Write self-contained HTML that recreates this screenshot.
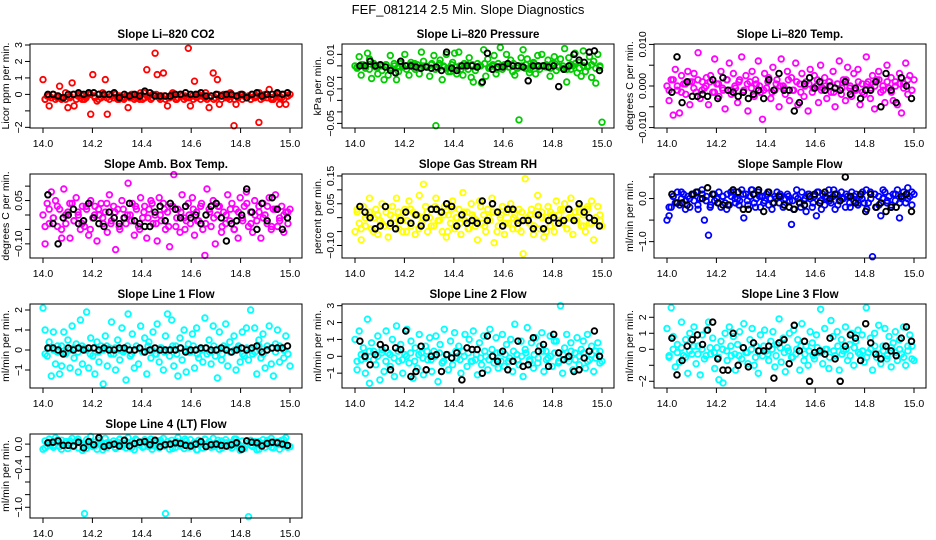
<!DOCTYPE html>
<html><head><meta charset="utf-8">
<style>
html,body{margin:0;padding:0;background:#fff;}
svg{display:block;font-family:"Liberation Sans",Arial,sans-serif;}
</style></head>
<body>
<svg id="fig" width="936" height="540" viewBox="0 0 936 540">
<text x="468" y="14" text-anchor="middle" font-size="13">FEF_081214  2.5 Min. Slope Diagnostics</text>
</svg>
<script>
// ---- data (scaled integers; multiply by the panel's unit) ----
const co2Main=[9,-3,-1,-7,-2,0,-3,-1,5,-2,-2,-3,-8,-1,7,-7,-3,0,-2,-1,-3,-1,0,-12,12,-2,-4,0,-2,-1,9,-12,-3,-1,-2,0,-3,-1,-2,-3,-1,-8,-2,0,-3,-1,-2,1,-3,-2,15,-1,-3,0,25,12,-2,-1,13,-3,-7,-2,0,-1,-3,-2,0,-1,-3,-2,28,-7,-1,8,-2,0,-3,-1,-2,-3,-8,-1,13,-2,9,-6,-3,0,-1,-2,-3,-1,-19,-6,-2,0,-3,-1,-2,-1,-3,0,-2,-1,-17,-3,-1,0,-2,3,-2,-3,-1,0,-6,-2,-3,-6,-1,0];
const co2Core=[-3,-1,0,-2,-3,1,-2,0,-1,-3,-2,0,-1,-3,1,-2,-1,0,-3,-2,-1,0,-2,-3,1,-1,-2,0,-3,-1,-2,1,-3,0,-1,-2,-3,0,-1,1,-2,-3,0,-1,-2,1,-3,-1,0,-2,-3,-1,1,-2,0,-3,-1,-2,0,-1];
const co2Black=[0,0,-1,-2,0,0,1,0,1,1,0,0,0,1,-2,0,-1,0,-1,2,1,-1,-1,-1,-1,0,0,1,0,0,1,-1,-1,0,-1,0,0,-1,0,-2,0,1,-1,0,0,1,0,1];
const presMain=[0,-1,8,-8,1,-2,11,6,-11,2,-1,-7,0,-4,-12,1,-8,9,-3,0,-12,-5,2,-1,10,0,-8,3,-1,-3,1,-7,12,4,0,-1,-9,2,9,-52,-2,5,-12,-1,10,-5,-5,3,11,-7,12,-3,-8,0,1,7,-10,-14,-4,2,0,-15,14,-9,6,-1,0,9,-7,2,16,-3,1,10,-1,5,-5,-8,0,-47,7,14,-2,6,-6,0,3,-7,9,-3,10,0,-1,5,-9,2,8,-4,0,6,-2,15,-14,7,-3,0,11,-6,3,-9,13,-5,0,8,-10,4,-15,10,-1,-49];
const presCore=[-2,1,0,-3,2,-1,0,1,-2,2,-1,0,-3,1,2,-2,0,-1,1,-3,2,0,-2,1,-1,0,2,-3,1,-1,0,2,-2,1,-3,0,1,-1,2,-2,0,1,-3,2,-1,0,1,-2,2,-1,0,-3,1,2,-2,0,-1,1,-2,0];
const presBlack=[0,0,4,0,1,-1,-4,-6,4,0,0,-1,-2,-1,-2,-1,-4,12,-2,-4,0,0,0,-1,-14,11,-3,-1,-1,2,0,0,-1,-13,0,0,0,-1,0,-18,-3,0,10,5,3,12,13,-4];
const tempMain=[0,-7,3,-14,8,-2,-13,5,1,-4,7,-9,2,6,-3,16,-6,2,-1,4,-9,5,-3,13,1,-5,7,-2,-11,3,11,-4,6,-1,-8,3,14,-2,5,-12,2,7,-5,1,12,-3,-16,6,-1,4,-6,9,-2,3,-10,13,0,-4,7,-7,4,-2,11,-9,1,6,-5,2,-12,8,-3,5,0,-8,10,-1,4,-6,2,-3,7,-10,1,12,-4,3,-7,9,-1,-5,6,-2,8,-9,1,-4,14,2,-6,5,-11,3,7,-3,0,-8,10,-1,4,-7,2,-9,6,-13,1,11,-4,5,-2,3];
const tempCore=[-2,3,0,-3,1,2,-1,3,-2,0,2,-3,1,-1,3,-2,0,2,-3,1,-1,3,0,-2,2,-3,1,0,-1,3,-2,2,-3,0,1,-1,3,-2,0,2,-3,1,-1,3,0,-2,2,-3,1,-1,0,3,-2,2,-3,0,1,-1,3,-2];
const tempBlack=[-3,14,-8,2,-5,-5,-4,-5,3,-6,4,-2,-3,-5,-3,-6,-4,-2,-6,3,-2,6,-2,-2,-12,-8,1,4,-1,2,-2,0,-1,-2,2,-4,-1,-6,-2,-2,2,-10,6,-2,-8,4,0,-6];
const ambMain=[0,-10,4,-3,8,-1,5,-4,2,-8,9,-3,1,-8,4,-2,6,0,-5,3,-4,2,-7,5,-1,3,-9,0,4,-3,1,-6,7,-2,3,-12,2,-5,5,-1,-3,11,0,4,-7,2,-4,6,-1,3,-8,2,5,-3,0,-9,6,-2,4,-5,1,-11,3,14,-4,2,-6,7,-1,-2,4,-3,6,-7,1,-2,3,-5,-14,9,2,-4,5,-10,0,3,-6,1,-3,7,-2,4,-5,2,-8,6,-1,3,8,-4,1,-6,5,-2,3,-8,4,0,-3,6,-5,2,7,-4,-1,3,-6,1,-3,2];
const ambCore=[-4,2,-1,3,-5,0,4,-2,1,-3,3,-5,0,2,-1,4,-3,1,-4,2,0,-2,3,-5,1,-1,4,-3,0,2,-4,3,-1,1,-5,0,2,-2,4,-3,1,-1,3,-4,0,2,-5,1,-2,4,-3,0,1,-1,3,-4,2,-2,0,1];
const ambBlack=[7,-3,-10,-1,0,2,-3,-2,4,-1,-3,-4,1,-1,-3,-1,4,-2,-3,-4,-4,1,3,-2,4,2,-1,3,-1,0,-3,0,3,4,-1,-9,-3,-2,0,9,1,-5,4,-2,6,2,-5,-1];
const rhMain=[-5,2,-2,-8,4,-3,1,7,-4,0,3,-6,-1,5,-3,2,-7,1,4,-2,7,-4,0,-5,3,-1,6,-3,2,-6,1,8,-2,12,4,-5,0,3,-3,7,-1,2,-5,4,-7,1,-2,6,-4,0,3,-6,9,-1,2,-4,5,0,-3,-8,6,-2,1,-5,3,-1,7,-9,2,-3,0,4,-6,2,-2,5,-4,1,-1,3,-5,-13,14,0,-2,3,-6,1,8,-4,2,-7,0,4,-3,1,-5,6,-1,3,-2,5,-4,0,7,-6,2,-1,4,-3,1,-5,3,-2,6,-8,0,4,-1,-3];
const rhCore=[3,-4,0,2,-5,1,-2,4,-3,0,2,-1,-5,3,1,-4,0,2,-3,4,-1,1,-5,3,0,-2,2,-4,1,-1,4,-3,0,2,-5,1,-2,3,0,-4,2,-1,1,-3,4,0,-5,2,-2,1,3,-4,0,-1,2,-3,4,-2,0,1];
const rhBlack=[4,2,0,-4,-3,4,-2,-4,-1,2,-2,1,-3,0,3,3,2,5,4,-3,1,-2,-1,-2,6,-1,5,2,-3,3,3,-2,-1,-1,-4,1,-4,-1,0,-2,-1,3,-1,5,2,0,-1,-3];
const sfMain=[-50,-40,-20,5,-10,15,-15,0,10,-5,5,-20,10,-5,15,-25,0,10,-50,5,-85,-15,10,-5,0,15,-20,5,-10,10,-15,5,15,-10,0,-5,20,-45,10,-15,5,20,-10,0,15,-20,5,-5,10,-15,0,-10,5,15,-10,5,-20,0,10,-5,-60,-25,5,0,-10,15,-5,-30,10,0,-20,5,-40,15,-5,10,-15,0,20,-10,5,-25,10,-5,15,0,-20,5,-10,15,-5,10,-15,5,0,-10,20,-10,15,-135,10,-20,5,-40,0,15,-10,5,-15,10,-5,20,-45,0,15,-10,25,5,-15,10];
const sfCore=[-20,5,-10,15,-25,0,10,-15,20,-5,-20,10,-10,5,-25,15,0,-15,10,-5,20,-20,5,-10,15,-25,0,10,-15,5,-5,20,-20,0,10,-10,15,-25,5,-5,20,-15,0,10,-20,5,-10,15,-25,0,10,-15,20,-5,-20,10,-10,5,0,15];
const sfBlack=[10,-10,-10,-15,10,15,0,25,10,-10,-15,-15,20,15,-25,-25,10,20,-30,15,-10,5,-15,-20,-25,-10,-15,5,10,-10,15,0,10,-5,50,5,-10,10,-30,10,-20,-10,-30,-20,-20,5,10,-30];
const l1Main=[21,10,-3,4,-13,9,-7,2,-12,-8,9,-1,5,-9,12,-4,3,-11,15,-7,1,19,-9,6,-3,-12,4,-6,2,-17,7,-8,1,14,-2,-10,5,-5,11,0,-15,18,-3,8,-9,2,-7,12,-1,6,-12,4,-4,9,-2,13,-6,1,-10,7,18,-3,15,-8,2,-13,6,-5,10,-11,3,-1,8,-9,11,-4,1,-6,16,-2,5,-7,12,-3,-14,9,-5,2,13,-8,4,-1,7,-10,1,-6,9,-3,11,-5,20,-2,11,-12,5,-4,8,-9,2,12,-7,-13,3,10,-6,1,-4,7,-2,-8];
const l1Core=[-2,1,0,-1,2,-2,0,1,-1,2,0,-2,1,-1,0,2,-2,1,0,-1,2,-2,0,1,-1,2,0,-2,1,-1,0,2,-2,1,0,-1,2,-2,0,1,-1,2,0,-2,1,-1,0,2,-2,1,0,-1,2,-2,0,1,-1,2,0,-2];
const l1Black=[1,1,0,-2,1,0,1,0,1,1,0,1,0,0,1,1,0,0,1,-1,0,1,0,0,0,0,1,-1,0,0,1,1,0,0,1,0,-1,0,1,0,1,2,-1,0,1,1,1,2];
const l2Main=[10,-8,15,-2,5,-10,22,-16,8,3,-5,12,-14,4,-9,15,2,-6,10,-12,18,-3,7,-10,1,16,-4,9,-13,5,-7,13,2,-11,6,-2,11,-9,3,12,-15,7,-4,16,1,-8,9,-5,14,-1,6,-10,3,13,-6,10,-3,15,-2,-11,8,-5,12,0,-8,16,4,-4,11,-7,2,13,-6,7,-3,10,-9,19,1,-5,9,-12,4,17,-2,8,-7,11,-4,6,14,-9,3,-1,12,-6,9,9,-4,30,-10,5,13,-3,8,-8,2,11,-5,4,9,-7,13,-2,6,-9,3,8,-4,-3];
const l2Core=[-3,1,-1,3,-2,0,2,-3,1,-1,3,-2,0,2,-3,1,-1,3,-2,0,2,-3,1,-1,3,-2,0,2,-3,1,-1,3,-2,0,2,-3,1,-1,3,-2,0,2,-3,1,-1,3,-2,0,2,-3,1,-1,3,-2,0,2,-3,1,-1,3];
const l2Black=[9,0,-5,1,7,5,-8,5,4,15,-12,-9,6,-8,0,1,-9,1,-1,2,-14,5,4,4,-10,12,0,-3,3,-8,-3,9,-6,-5,11,3,7,-6,13,2,-2,0,-9,-8,-1,3,15,0];
const l3Main=[13,-5,26,8,-11,3,-8,17,-4,6,-15,10,-3,14,-9,2,-16,9,-6,12,17,-3,7,-12,1,-19,5,-21,10,-7,14,-4,8,-13,3,11,-6,16,-2,-9,6,13,-10,2,-15,9,-4,12,-1,-7,5,11,-11,3,19,-8,7,-14,1,10,-5,12,-3,6,-13,16,-7,2,-10,11,4,-6,9,-2,25,-9,13,0,-12,18,8,-4,11,-13,6,-1,14,-7,3,10,-10,5,12,-3,9,-8,26,-2,7,-13,10,-5,15,-9,2,13,-6,8,-11,4,11,-7,6,-3,14,-10,2,9,-6,-7];
const l3Core=[-4,0,-2,1,-5,-1,2,-3,0,-4,1,-2,-5,0,-1,2,-3,-4,1,-2,0,-5,-1,2,-3,0,-4,1,-2,-1,-5,0,2,-3,-1,-4,1,-2,0,-5,-1,2,-3,0,-4,1,-2,-1,-5,0,2,-3,-1,-4,1,-2,0,-5,-1,2];
const l3Black=[7,-16,-7,2,6,9,3,12,17,-6,-13,-13,10,-10,1,-11,4,-1,-1,2,-18,4,6,-9,15,-1,5,-20,-2,-1,-3,7,-6,-20,2,9,7,-7,16,4,-3,-6,2,-1,-4,7,14,5];
const l4Main=[-8,5,-3,8,0,-5,10,2,-4,6,-2,4,-7,1,9,-3,5,-6,2,-10,-110,7,-2,12,-4,3,-8,6,0,-3,9,-5,2,-1,5,-7,3,8,-4,1,-6,10,-2,4,-9,6,-1,3,-5,7,2,-4,8,-2,-3,5,-6,1,9,-110,4,-8,6,0,-5,10,-3,2,-7,5,-1,7,-4,3,-9,6,0,-6,8,-2,4,-5,9,-3,1,-8,5,-2,7,-4,2,-6,3,8,-3,-10,5,-7,1,-115,6,-4,2,-9,4,-1,7,-5,3,-2,9,-6,1,4,-8,6,-3,10,-5,-4];
const l4Core=[-6,3,-2,7,-8,1,5,-4,8,-1,-7,4,-3,6,-9,2,0,-5,7,-2,3,-6,8,-1,-4,5,-8,2,6,-3,0,-7,4,-2,8,-5,1,-9,3,7,-1,-4,6,-6,2,-3,8,0,-7,5,-2,4,-8,1,6,-5,3,-1,7,-4];
const l4Black=[2,3,5,-2,-2,-3,3,-6,4,-1,10,-4,-2,0,-3,6,-3,1,3,4,-1,6,-4,-1,0,2,1,-2,-3,0,4,-4,-1,0,-2,-3,-1,2,-8,5,3,2,-3,1,3,2,0,-2];
const xTicks=[14.0,14.2,14.4,14.6,14.8,15.0];
const xTickLabels=["14.0","14.2","14.4","14.6","14.8","15.0"];
const xStart=14.0, xEnd=15.0;

const panels=[
 {name:"co2",title:"Slope Li\u2013820 CO2",ylab:"Licor ppm per min.",color:"#ff0000",unit:0.1,main:co2Main,core:co2Core,black:co2Black,yTop:3.06,yBot:-2.04,ticks:[-2,-1,0,1,2,3],labels:["\u22122","","0","1","2","3"]},
 {name:"pressure",title:"Slope Li\u2013820 Pressure",ylab:"kPa per min.",color:"#00cc00",unit:0.001,main:presMain,core:presCore,black:presBlack,yTop:0.019,yBot:-0.054,ticks:[0.01,0,-0.01,-0.02,-0.03,-0.04,-0.05],labels:["0.01","","","\u22120.02","","","\u22120.05"]},
 {name:"temp",title:"Slope Li\u2013820 Temp.",ylab:"degrees C per min.",color:"#ff00ff",unit:0.0005,main:tempMain,core:tempCore,black:tempBlack,yTop:0.0101,yBot:-0.0101,ticks:[0.01,0.005,0,-0.005,-0.01],labels:["0.010","","0.000","","\u22120.010"]},
 {name:"amb-box-temp",title:"Slope Amb. Box Temp.",ylab:"degrees C per min.",color:"#ff00ff",unit:0.01,main:ambMain,core:ambCore,black:ambBlack,yTop:0.142,yBot:-0.149,ticks:[0.1,0.05,0,-0.05,-0.1],labels:["","0.05","","","\u22120.10"]},
 {name:"gas-rh",title:"Slope Gas Stream RH",ylab:"percent per min.",color:"#ffff00",unit:0.01,main:rhMain,core:rhCore,black:rhBlack,yTop:0.157,yBot:-0.145,ticks:[0.15,0.1,0.05,0,-0.05,-0.1],labels:["0.15","","0.05","","","\u22120.10"]},
 {name:"sample-flow",title:"Slope Sample Flow",ylab:"ml/min per min.",color:"#0000ff",unit:0.01,main:sfMain,core:sfCore,black:sfBlack,yTop:0.57,yBot:-1.38,ticks:[0.5,0,-0.5,-1.0],labels:["","0.0","","\u22121.0"]},
 {name:"line1-flow",title:"Slope Line 1 Flow",ylab:"ml/min per min.",color:"#00ffff",unit:0.1,main:l1Main,core:l1Core,black:l1Black,yTop:2.3,yBot:-1.9,ticks:[-1,0,1,2],labels:["\u22121","0","1","2"]},
 {name:"line2-flow",title:"Slope Line 2 Flow",ylab:"ml/min per min.",color:"#00ffff",unit:0.1,main:l2Main,core:l2Core,black:l2Black,yTop:3.1,yBot:-1.88,ticks:[-1,0,1,2,3],labels:["\u22121","0","1","2","3"]},
 {name:"line3-flow",title:"Slope Line 3 Flow",ylab:"ml/min per min.",color:"#00ffff",unit:0.1,main:l3Main,core:l3Core,black:l3Black,yTop:2.83,yBot:-2.42,ticks:[-2,-1,0,1,2],labels:["\u22122","","0","1","2"]},
 {name:"line4-flow",title:"Slope Line 4 (LT) Flow",ylab:"ml/min per min.",color:"#00ffff",unit:0.01,main:l4Main,core:l4Core,black:l4Black,yTop:0.16,yBot:-1.17,ticks:[0,-0.2,-0.4,-0.6,-0.8,-1.0],labels:["0.0","","\u22120.4","","","\u22121.0"]}
];

const NS="http://www.w3.org/2000/svg";
const svg=document.getElementById("fig");
function mk(tag,attrs,parent){const e=document.createElementNS(NS,tag);for(const k in attrs)e.setAttribute(k,attrs[k]);parent.appendChild(e);return e;}

panels.forEach((p,idx)=>{
  const c=idx%3, r=Math.floor(idx/3);
  const L=30+312*c, R=302+312*c, T=44+130*r, B=128+130*r;
  const x0=43+312*c, x1=290+312*c;
  const xs=v=>x0+(v-xStart)/(xEnd-xStart)*(x1-x0);
  const ys=v=>T+(p.yTop-v)/(p.yTop-p.yBot)*(B-T);
  const g=mk("g",{},svg);
  
  
  const t=mk("text",{x:(L+R)/2,y:T-6,"text-anchor":"middle","font-size":"11.5","font-weight":"bold"},g);
  t.textContent=p.title;
  
  
  const yl=mk("text",{x:0,y:0,transform:`translate(${L-21},${(T+B)/2}) rotate(-90)`,"text-anchor":"middle","font-size":"10.5"},g);
  yl.textContent=p.ylab;
  
  
  const pts=mk("g",{fill:"none",stroke:p.color,"stroke-width":"1.8"},g);
  
  
  p.main.forEach((v,i)=>{
    const x=xStart+i/(p.main.length-1)*(xEnd-xStart);
    const ci=mk("circle",{cx:xs(x).toFixed(1),cy:ys(v*p.unit).toFixed(1),r:2.8},pts);
    
    
  });
  p.core.forEach((v,i)=>{
    const x=xStart+(i+0.5)/p.core.length*(xEnd-xStart);
    const ci=mk("circle",{cx:xs(x).toFixed(1),cy:ys(v*p.unit).toFixed(1),r:2.8},pts);
    
    
  });
  const bpts=mk("g",{fill:"none",stroke:"#000","stroke-width":"1.9"},g);
  
  
  p.black.forEach((v,i)=>{
    const x=14.02+i/(p.black.length-1)*0.97;
    const ci=mk("circle",{cx:xs(x).toFixed(1),cy:ys(v*p.unit).toFixed(1),r:2.8},bpts);
    
    
  });
  const box=mk("rect",{x:L,y:T,width:R-L,height:B-T,fill:"none",stroke:"#000","stroke-width":"1"},g);
  
  
  const xa=mk("g",{stroke:"#000","stroke-width":"1"},g);
  
  
  mk("line",{x1:xs(xTicks[0]),x2:xs(xTicks[xTicks.length-1]),y1:B,y2:B},xa);
  xTicks.forEach((v,i)=>{
    mk("line",{x1:xs(v),x2:xs(v),y1:B,y2:B+5},xa);
    const tl=mk("text",{x:xs(v),y:B+19,"text-anchor":"middle","font-size":"10.5",stroke:"none",fill:"#000"},xa);
    tl.textContent=xTickLabels[i];
    
    
  });
  const ya=mk("g",{stroke:"#000","stroke-width":"1"},g);
  
  
  const tv=p.ticks.map(ys);
  mk("line",{x1:L,x2:L,y1:Math.min(...tv),y2:Math.max(...tv)},ya);
  p.ticks.forEach((v,i)=>{
    const yy=ys(v);
    mk("line",{x1:L-5,x2:L,y1:yy,y2:yy},ya);
    if(p.labels[i]){
      const tl=mk("text",{x:0,y:0,transform:`translate(${L-8},${yy}) rotate(-90)`,"text-anchor":"middle","font-size":"10.5",stroke:"none",fill:"#000"},ya);
      tl.textContent=p.labels[i];
      
      
    }
  });
});
</script>
</body></html>
